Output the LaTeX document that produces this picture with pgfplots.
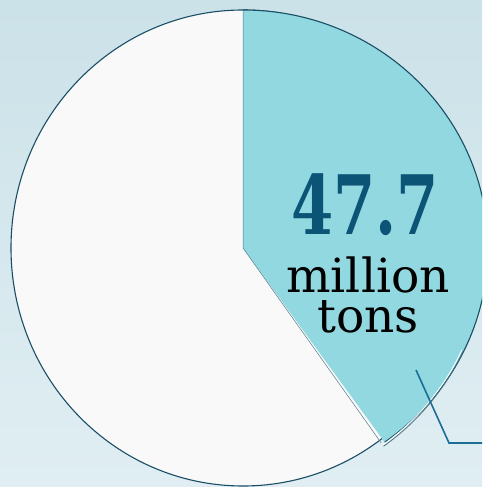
\documentclass[border=0pt]{standalone}
\usepackage{pgfplots}
\usepackage{pgfplotstable}
\pgfplotsset{compat=1.18}
\usepackage{fontspec}
\setmainfont{DejaVu Serif}
\newfontfamily\numfont{DejaVu Serif}

\definecolor{bgtop}{RGB}{203,226,232}
\definecolor{bgbot}{RGB}{224,238,243}
\definecolor{slicetea}{RGB}{145,216,224}
\definecolor{slicewhite}{RGB}{249,249,249}
\definecolor{rim}{RGB}{26,78,102}
\definecolor{numblue}{RGB}{12,84,118}
\definecolor{leader}{RGB}{27,110,150}

% slice values, million tons
\pgfplotstableread{
label value
highlight 47.7
rest 71.0
}\piedata

\begin{document}
\begin{tikzpicture}
\pgfplotstablegetelem{0}{value}\of\piedata \let\valA\pgfplotsretval
\pgfplotstablegetelem{1}{value}\of\piedata \let\valB\pgfplotsretval
\pgfmathsetmacro\frac{\valA/(\valA+\valB)}
\pgfmathsetmacro\endang{90-360*\frac}
\begin{axis}[
    width=482pt, height=487pt, scale only axis,
    xmin=0, xmax=482, ymin=0, ymax=487,
    hide axis, clip=true,
]
% background
\shade[top color=bgtop, bottom color=bgbot] (axis cs:0,0) rectangle (axis cs:482,487);
% whole pie
\fill[slicewhite, draw=rim, line width=1.1pt] (axis cs:243,239) ellipse [x radius=232pt, y radius=238pt];
% highlighted slice
\fill[slicetea] (axis cs:243,239) -- ++(90:238pt)
    arc[start angle=90, end angle=\endang, x radius=245pt, y radius=238pt] -- cycle;
\draw[rim!75, line width=0.5pt] (axis cs:243,239) ++(\endang:239pt) -- (axis cs:243,239) -- ++(0,238pt);
\draw[rim, line width=1.1pt] (axis cs:243,239) ++(0,238pt)
    arc[start angle=90, end angle=\endang, x radius=245pt, y radius=238pt];
% second rim at the lower edge
\draw[white, line width=0.9pt] (axis cs:243,239) ++(\endang:241.5pt)
    arc[start angle=\endang, end angle=-25, radius=241.5pt];
\draw[rim!80, line width=0.8pt] (axis cs:243,239) ++(\endang:243pt)
    arc[start angle=\endang, end angle=-25, radius=243pt];
% leader line
\addplot[leader, line width=1.6pt, no marks] coordinates {(416,117) (449,44) (490,44)};
% labels
\node[numblue, inner sep=0pt, text depth=0pt, font=\numfont\bfseries\fontsize{82}{82}\selectfont,
    xscale=0.74, anchor=base] at (axis cs:365,252) {47.7};
\node[black, inner sep=0pt, font=\fontsize{47}{40}\selectfont, align=center, anchor=base]
    at (axis cs:368,154) {million\\tons};
\end{axis}
\pgfresetboundingbox
\path[use as bounding box] (0,0) rectangle (482pt,487pt);
\end{tikzpicture}
\end{document}
